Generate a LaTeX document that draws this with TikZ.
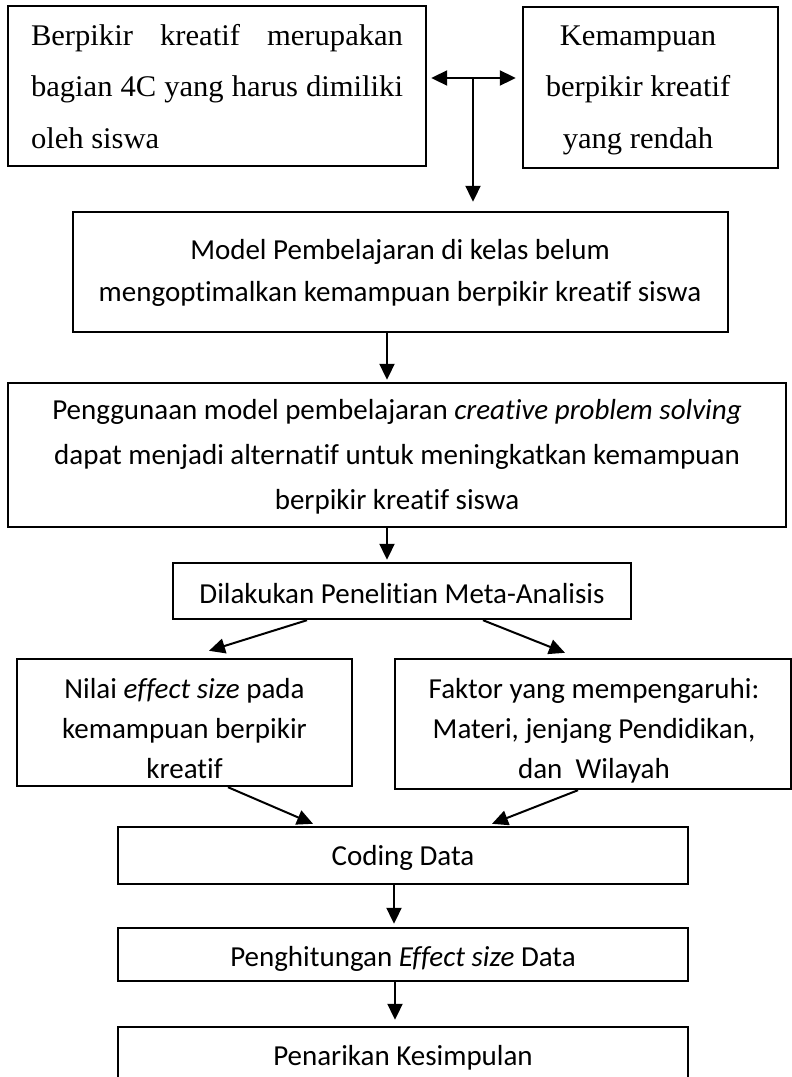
\documentclass[tikz,border=0pt]{standalone}
\usepackage{fontspec}
\setmainfont{Carlito}[Ligatures=NoCommon]
\newfontfamily\cambria[FakeStretch=1.02]{Liberation Serif}
\usetikzlibrary{arrows.meta,calc}
\begin{document}
\begin{tikzpicture}[x=1pt,y=-1pt,
 box/.style={draw=black, line width=2.4pt, rectangle, inner sep=0pt},
 txt/.style={anchor=base, inner sep=0pt, font=\fontsize{29}{42}\selectfont},
 serif/.style={anchor=base, inner sep=0pt, font=\cambria\fontsize{30}{51.5}\selectfont},
 arr/.style={line width=2pt, -{Triangle[length=16pt,width=15pt]}},
 darr/.style={line width=2pt, {Triangle[length=16pt,width=15pt]}-{Triangle[length=16pt,width=15pt]}}]
\useasboundingbox (0,0) rectangle (792,1077);
\clip (0,0) rectangle (792,1077);
% boxes
\node[box, minimum width=418pt, minimum height=160pt] (A) at (217,86) {};
\node[box, minimum width=255pt, minimum height=161pt] (B) at (650.5,87.5) {};
\node[box, minimum width=655pt, minimum height=120pt] (C) at (400.5,272) {};
\node[box, minimum width=778pt, minimum height=144pt] (D) at (397,455) {};
\node[box, minimum width=458pt, minimum height=56pt] (E) at (402,591) {};
\node[box, minimum width=335pt, minimum height=127pt] (F) at (184.5,722.5) {};
\node[box, minimum width=396pt, minimum height=130pt] (G) at (593,724) {};
\node[box, minimum width=570pt, minimum height=57pt] (H) at (403,855.5) {};
\node[box, minimum width=570pt, minimum height=53pt] (I) at (403,954.5) {};
\node[box, minimum width=570pt, minimum height=58pt] (J) at (403,1056) {};
% texts
\node[serif] (At) at (217,45) {\parbox[t]{372pt}{\makebox[372pt][s]{Berpikir kreatif merupakan}\\\makebox[372pt][s]{bagian 4C yang harus dimiliki}\\oleh siswa}};
\node[serif] (Bt) at (638,45) {\parbox[t]{250pt}{\centering Kemampuan\\berpikir kreatif\\yang rendah}};
\node[txt] (Ct) at (400,259) {\parbox[t]{640pt}{\centering Model Pembelajaran di kelas belum\\mengoptimalkan kemampuan berpikir kreatif siswa}};
\node[txt] (Dt) at (397,419) {\parbox[t]{770pt}{\centering\baselineskip=45pt Penggunaan model pembelajaran \textit{creative problem solving}\\dapat menjadi alternatif untuk meningkatkan kemampuan\\berpikir kreatif siswa}};
\node[txt] (Et) at (402,603) {Dilakukan Penelitian Meta-Analisis};
\node[txt] (Ft) at (184.5,698) {\parbox[t]{320pt}{\centering\baselineskip=40pt Nilai \textit{effect size} pada\\kemampuan berpikir\\kreatif}};
\node[txt] (Gt) at (594,698) {\parbox[t]{390pt}{\centering\baselineskip=40pt Faktor yang mempengaruhi:\\Materi, jenjang Pendidikan,\\dan\ \ Wilayah}};
\node[txt] (Ht) at (403,865) {Coding Data};
\node[txt] (It) at (403,966) {Penghitungan \textit{Effect size} Data};
\node[txt] (Jt) at (403,1065) {Penarikan Kesimpulan};
% connectors
\coordinate (j) at (473,78);
\draw[darr] ($(A.east |- j)+(4,0)$) -- ($(B.west |- j)+(-6,0)$);
\draw[arr] (j) -- ($(C.north -| j)+(0,-9)$);
\draw[arr] ($(C.south)+(-13.5,0)$) -- ($(D.north)+(-10,-2)$);
\draw[arr] ($(D.south)+(-10,0)$) -- ($(E.north)+(-15,-2)$);
\draw[arr] ($(E.south)+(-95,0)$) -- ($(F.north)+(24.5,-7)$);
\draw[arr] ($(E.south)+(81,0)$) -- ($(G.north)+(-28,-5)$);
\draw[arr] ($(F.south)+(43.5,0)$) -- ($(H.north)+(-90,-2)$);
\draw[arr] ($(G.south)+(-15,0)$) -- ($(H.north)+(89,-2)$);
\draw[arr] ($(H.south)+(-9,0)$) -- ($(I.north)+(-9,-3)$);
\draw[arr] ($(I.south)+(-8,0)$) -- ($(J.north)+(-8,-6)$);
\end{tikzpicture}
\end{document}
